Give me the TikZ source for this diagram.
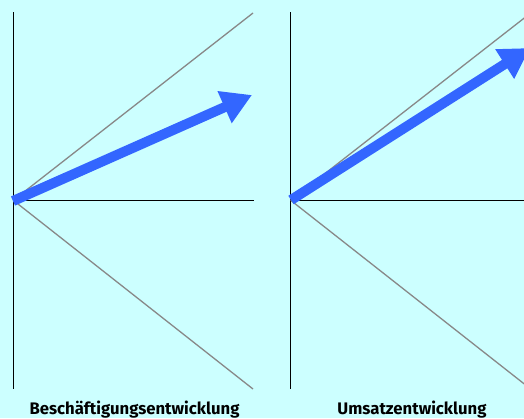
\documentclass[tikz,border=0pt]{standalone}
\usepackage{fontspec}
\setmainfont{Fira Sans}
\usetikzlibrary{arrows.meta}
\definecolor{bgc}{RGB}{204,255,255}
\definecolor{arrc}{RGB}{51,102,255}
\definecolor{grayc}{RGB}{136,136,136}
\tikzset{
  axisline/.style={black, line width=1.2pt},
  guideline/.style={grayc, line width=1.3pt},
  trendarrow/.style={arrc, line width=10pt, -{Triangle[length=30pt,width=33pt]}},
  caption/.style={font=\bfseries\fontsize{16.7}{20}\selectfont, inner sep=0pt, anchor=base}
}
\begin{document}
\begin{tikzpicture}[x=1pt,y=-1pt]
\useasboundingbox (0,0) rectangle (524,418);
\fill[bgc] (0,0) rectangle (524,418);
\begin{scope}
\clip (0,0) rectangle (524,418);
% left panel
\coordinate (lo) at (13.3,200.3);
\coordinate (ltop) at (13.3,12);
\coordinate (lbot) at (13.3,389);
\coordinate (lright) at (254,200.3);
\coordinate (lup) at (253,13);
\coordinate (ldown) at (253,389);
\coordinate (lstart) at (13,201);
\coordinate (ltip) at (252,95);
\draw[axisline] (ltop) -- (lbot);
\draw[axisline] (lo) -- (lright);
\draw[guideline] (lo) -- (lup);
\draw[guideline] (lo) -- (ldown);
\draw[trendarrow] (lstart) -- (ltip);
% right panel
\coordinate (ro) at (290.7,200.3);
\coordinate (rtop) at (290.7,12);
\coordinate (rbot) at (290.7,389);
\coordinate (rright) at (531,200.3);
\coordinate (rup) at (530.7,13);
\coordinate (rdown) at (530.7,389);
\coordinate (rstart) at (291,200);
\coordinate (rtip) at (530,48);
\draw[axisline] (rtop) -- (rbot);
\draw[axisline] (ro) -- (rright);
\draw[guideline] (ro) -- (rup);
\draw[guideline] (ro) -- (rdown);
\draw[trendarrow] (rstart) -- (rtip);
\end{scope}
\node[caption] (lcap) at (134.5,414) {Beschäftigungsentwicklung};
\node[caption] (rcap) at (412,414) {Umsatzentwicklung};
\end{tikzpicture}
\end{document}
